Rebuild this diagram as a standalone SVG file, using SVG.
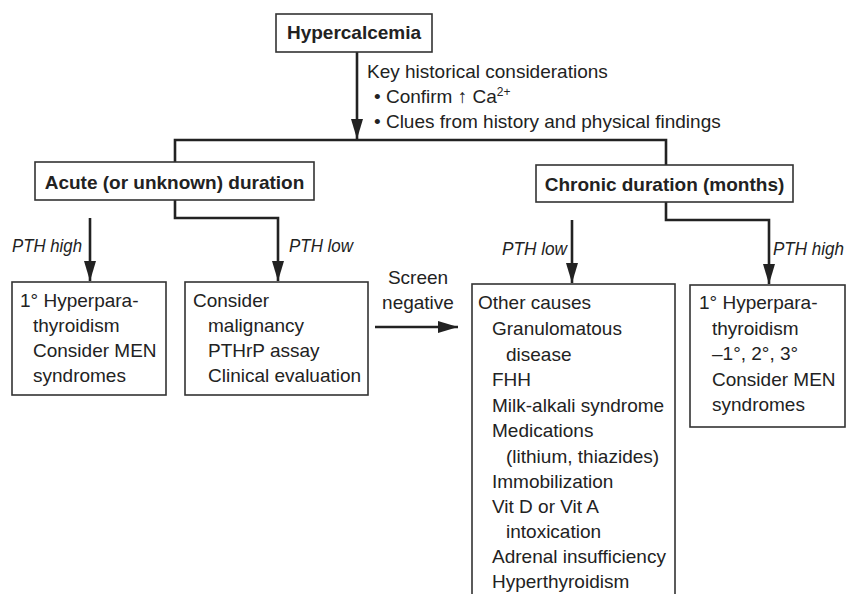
<svg xmlns="http://www.w3.org/2000/svg" width="847" height="594" viewBox="0 0 847 594">
<style>
.box{fill:#fff;stroke:#333;stroke-width:1.6}
.t{font-family:"Liberation Sans",Arial,sans-serif;font-size:19px;fill:#222}
.b{font-weight:bold}
.i{font-style:italic;font-size:18px}
.c{fill:none;stroke:#222;stroke-width:2.6}
</style>
<defs>
<marker id="ah" markerUnits="userSpaceOnUse" markerWidth="20" markerHeight="12" refX="20" refY="6" orient="auto">
<path d="M0,0 L20,6 L0,12 z" fill="#222"/>
</marker>
</defs>
<rect width="847" height="594" fill="#fff"/>
<g id="connectors">
<path class="c" d="M357,52 V139" marker-end="url(#ah)"/>
<path class="c" d="M175,162 V140 H666 V165"/>
<path class="c" d="M175,200 V218 H278 V281" marker-end="url(#ah)"/>
<path class="c" d="M90,218 V281" marker-end="url(#ah)"/>
<path class="c" d="M666,202 V220 H769 V284" marker-end="url(#ah)"/>
<path class="c" d="M572,220 V283" marker-end="url(#ah)"/>
<path class="c" d="M375,327 H458" marker-end="url(#ah)"/>
<text class="t" x="367" y="78">Key historical considerations</text>
<text class="t" x="374" y="103">• Confirm ↑ Ca<tspan font-size="12" dy="-7">2+</tspan></text>
<text class="t" x="374" y="128">• Clues from history and physical findings</text>
<text class="t i" x="12" y="252" textLength="70" lengthAdjust="spacingAndGlyphs">PTH high</text>
<text class="t i" x="289" y="252" textLength="64" lengthAdjust="spacingAndGlyphs">PTH low</text>
<text class="t i" x="502" y="255" textLength="65" lengthAdjust="spacingAndGlyphs">PTH low</text>
<text class="t i" x="773" y="255" textLength="71" lengthAdjust="spacingAndGlyphs">PTH high</text>
<text class="t" x="418" y="284" text-anchor="middle">Screen</text>
<text class="t" x="418" y="309" text-anchor="middle">negative</text>
</g>
<g id="hypercalcemia">
<rect class="box" x="276" y="14" width="156" height="38"/>
<text class="t b" x="354" y="39" text-anchor="middle">Hypercalcemia</text>
</g>
<g id="acute">
<rect class="box" x="35" y="162" width="279" height="38"/>
<text class="t b" x="174.5" y="189" text-anchor="middle">Acute (or unknown) duration</text>
</g>
<g id="chronic">
<rect class="box" x="536" y="165" width="257" height="37"/>
<text class="t b" x="664.5" y="191" text-anchor="middle">Chronic duration (months)</text>
</g>
<g id="acute-pth-high">
<rect class="box" x="12" y="282" width="154" height="113"/>
<text class="t" x="20" y="307">1° Hyperpara-</text>
<text class="t" x="33" y="332">thyroidism</text>
<text class="t" x="33" y="357">Consider MEN</text>
<text class="t" x="33" y="382">syndromes</text>
</g>
<g id="acute-pth-low">
<rect class="box" x="185" y="282" width="183" height="113"/>
<text class="t" x="193" y="307">Consider</text>
<text class="t" x="208" y="332">malignancy</text>
<text class="t" x="208" y="357">PTHrP assay</text>
<text class="t" x="208" y="382">Clinical evaluation</text>
</g>
<g id="other-causes">
<rect class="box" x="472" y="284" width="203" height="330"/>
<text class="t" x="478" y="309">Other causes</text>
<text class="t" x="492" y="335">Granulomatous</text>
<text class="t" x="506" y="361">disease</text>
<text class="t" x="492" y="386">FHH</text>
<text class="t" x="492" y="412">Milk-alkali syndrome</text>
<text class="t" x="492" y="437">Medications</text>
<text class="t" x="506" y="463">(lithium, thiazides)</text>
<text class="t" x="492" y="488">Immobilization</text>
<text class="t" x="492" y="513">Vit D or Vit A</text>
<text class="t" x="506" y="538">intoxication</text>
<text class="t" x="492" y="563">Adrenal insufficiency</text>
<text class="t" x="492" y="588">Hyperthyroidism</text>
</g>
<g id="chronic-pth-high">
<rect class="box" x="690" y="285" width="155" height="142"/>
<text class="t" x="699" y="309">1° Hyperpara-</text>
<text class="t" x="712" y="335">thyroidism</text>
<text class="t" x="712" y="360">–1°, 2°, 3°</text>
<text class="t" x="712" y="386">Consider MEN</text>
<text class="t" x="712" y="411">syndromes</text>
</g>
</svg>
